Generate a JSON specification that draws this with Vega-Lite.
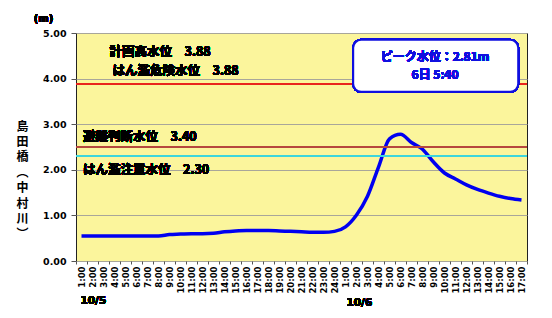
{
  "$schema": "https://vega.github.io/schema/vega-lite/v6.json",
  "width": 451,
  "height": 228,
  "autosize": {"type": "none"},
  "padding": {"left": 76, "top": 33, "right": 25, "bottom": 57},
  "background": "white",
  "config": {
    "view": {"fill": "#FBF59C", "stroke": "#222222", "strokeWidth": 1},
    "font": "Noto Sans CJK JP"
  },
  "data": {
    "values": [
      {"time": "10/5 1:00", "level": 0.55},
      {"time": "10/5 2:00", "level": 0.55},
      {"time": "10/5 3:00", "level": 0.55},
      {"time": "10/5 4:00", "level": 0.55},
      {"time": "10/5 5:00", "level": 0.55},
      {"time": "10/5 6:00", "level": 0.55},
      {"time": "10/5 7:00", "level": 0.55},
      {"time": "10/5 8:00", "level": 0.55},
      {"time": "10/5 9:00", "level": 0.58},
      {"time": "10/5 10:00", "level": 0.59},
      {"time": "10/5 11:00", "level": 0.6},
      {"time": "10/5 12:00", "level": 0.6},
      {"time": "10/5 13:00", "level": 0.61},
      {"time": "10/5 14:00", "level": 0.64},
      {"time": "10/5 15:00", "level": 0.66},
      {"time": "10/5 16:00", "level": 0.67},
      {"time": "10/5 17:00", "level": 0.67},
      {"time": "10/5 18:00", "level": 0.67},
      {"time": "10/5 19:00", "level": 0.66},
      {"time": "10/5 20:00", "level": 0.65},
      {"time": "10/5 21:00", "level": 0.64},
      {"time": "10/5 22:00", "level": 0.63},
      {"time": "10/5 23:00", "level": 0.63},
      {"time": "10/5 24:00", "level": 0.65},
      {"time": "10/6 1:00", "level": 0.75},
      {"time": "10/6 2:00", "level": 1.01},
      {"time": "10/6 3:00", "level": 1.42},
      {"time": "10/6 4:00", "level": 2.06},
      {"time": "10/6 5:00", "level": 2.68},
      {"time": "10/6 6:00", "level": 2.78},
      {"time": "10/6 7:00", "level": 2.6},
      {"time": "10/6 8:00", "level": 2.45},
      {"time": "10/6 9:00", "level": 2.17},
      {"time": "10/6 10:00", "level": 1.93},
      {"time": "10/6 11:00", "level": 1.8},
      {"time": "10/6 12:00", "level": 1.67},
      {"time": "10/6 13:00", "level": 1.57},
      {"time": "10/6 14:00", "level": 1.49},
      {"time": "10/6 15:00", "level": 1.42},
      {"time": "10/6 16:00", "level": 1.37},
      {"time": "10/6 17:00", "level": 1.34}
    ]
  },
  "layer": [
    {
      "mark": {"type": "line", "color": "#0000F0", "strokeWidth": 3.5, "interpolate": "monotone"},
      "encoding": {
        "x": {
          "field": "time", "type": "ordinal", "sort": null,
          "scale": {"type": "band", "paddingInner": 0, "paddingOuter": 0},
          "axis": {
            "title": null,
            "labelExpr": "split(datum.value, ' ')[1]",
            "labelAngle": 270,
            "labelOverlap": false,
            "labelFont": "DejaVu Sans",
            "labelFontWeight": "bold",
            "labelFontSize": 8.5,
            "labelColor": "#000000",
            "labelPadding": 2,
            "tickSize": 3,
            "tickColor": "#555555",
            "tickBand": "extent",
            "domain": false,
            "grid": false
          }
        },
        "y": {
          "field": "level", "type": "quantitative",
          "scale": {"domain": [0, 5], "nice": false},
          "axis": {
            "title": ["島", "田", "橋", "︵", "中", "村", "川", "︶"],
            "titleAngle": 0,
            "titleFont": "Noto Sans CJK JP",
            "titleFontSize": 12,
            "titleFontWeight": "bold",
            "titleLineHeight": 15.4,
            "titleX": -54,
            "titleY": 88,
            "titleAlign": "center",
            "titleBaseline": "top",
            "titleColor": "#000000",
            "values": [0, 1, 2, 3, 4, 5],
            "format": ".2f",
            "labelFont": "DejaVu Sans",
            "labelFontWeight": "bold",
            "labelFontSize": 9.5,
            "labelColor": "#000000",
            "labelPadding": 5,
            "tickSize": 5,
            "tickColor": "#555555",
            "domain": false,
            "grid": true,
            "gridColor": "#A8A69A",
            "gridWidth": 1
          }
        }
      }
    },
    {"mark": {"type": "rule", "color": "#E8241C", "strokeWidth": 1.5}, "encoding": {"y": {"datum": 3.88}}},
    {"mark": {"type": "rule", "color": "#B5483E", "strokeWidth": 1.2}, "encoding": {"y": {"datum": 2.5}}},
    {"mark": {"type": "rule", "color": "#3CD6DC", "strokeWidth": 1.5}, "encoding": {"y": {"datum": 2.3}}},
    {
      "mark": {"type": "rect", "fill": "#FFFFFF", "stroke": "#1010E0", "strokeWidth": 2, "cornerRadius": 8},
      "encoding": {
        "x": {"datum": "10/6 2:00", "type": "ordinal", "bandPosition": 0.2},
        "x2": {"datum": "10/6 17:00", "bandPosition": 0.2},
        "y": {"datum": 4.85}, "y2": {"datum": 3.71}
      }
    },
    {
      "mark": {"type": "text", "color": "#1010E0", "fontSize": 12, "fontWeight": "bold", "align": "center", "baseline": "middle", "dx": 1.5},
      "encoding": {"x": {"datum": "10/6 9:00", "type": "ordinal"}, "y": {"datum": 4.47}, "text": {"value": "ピーク水位：2.81m"}}
    },
    {
      "mark": {"type": "text", "color": "#1010E0", "fontSize": 12, "fontWeight": "bold", "align": "center", "baseline": "middle", "dx": 1.5},
      "encoding": {"x": {"datum": "10/6 9:00", "type": "ordinal"}, "y": {"datum": 4.08}, "text": {"value": "6日 5:40"}}
    },
    {
      "mark": {"type": "text", "color": "#000000", "fontSize": 12.5, "fontWeight": "bold", "align": "left", "baseline": "middle", "dx": -5},
      "encoding": {"x": {"datum": "10/5 4:00", "type": "ordinal"}, "y": {"datum": 4.58}, "text": {"value": "計画高水位　3.88"}}
    },
    {
      "mark": {"type": "text", "color": "#000000", "fontSize": 12.5, "fontWeight": "bold", "align": "left", "baseline": "middle", "dx": -2},
      "encoding": {"x": {"datum": "10/5 4:00", "type": "ordinal"}, "y": {"datum": 4.17}, "text": {"value": "はん濫危険水位　3.88"}}
    },
    {
      "mark": {"type": "text", "color": "#000000", "fontSize": 12.5, "fontWeight": "bold", "align": "left", "baseline": "middle", "dx": 1.5},
      "encoding": {"x": {"datum": "10/5 1:00", "type": "ordinal"}, "y": {"datum": 2.72}, "text": {"value": "避難判断水位　3.40"}}
    },
    {
      "mark": {"type": "text", "color": "#000000", "fontSize": 12.5, "fontWeight": "bold", "align": "left", "baseline": "middle", "dx": 1.5},
      "encoding": {"x": {"datum": "10/5 1:00", "type": "ordinal"}, "y": {"datum": 2.0}, "text": {"value": "はん濫注意水位　2.30"}}
    },
    {
      "mark": {"type": "text", "color": "#000000", "font": "DejaVu Sans", "fontSize": 10.5, "fontWeight": "bold", "align": "left", "baseline": "middle", "dx": -1},
      "encoding": {"x": {"datum": "10/5 1:00", "type": "ordinal"}, "y": {"datum": -0.88}, "text": {"value": "10/5"}}
    },
    {
      "mark": {"type": "text", "color": "#000000", "font": "DejaVu Sans", "fontSize": 10.5, "fontWeight": "bold", "align": "left", "baseline": "middle", "dx": 1},
      "encoding": {"x": {"datum": "10/6 1:00", "type": "ordinal"}, "y": {"datum": -0.92}, "text": {"value": "10/6"}}
    },
    {
      "mark": {"type": "text", "color": "#000000", "font": "DejaVu Sans", "fontSize": 10, "fontWeight": "bold", "align": "center", "baseline": "middle", "dx": -38},
      "encoding": {"x": {"datum": "10/5 1:00", "type": "ordinal"}, "y": {"datum": 5.31}, "text": {"value": "(m)"}}
    }
  ]
}
